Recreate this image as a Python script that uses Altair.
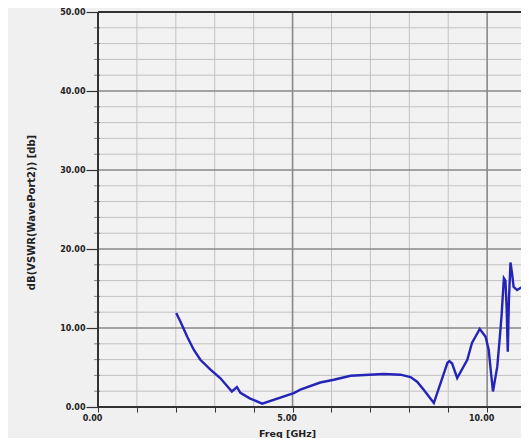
import altair as alt
import pandas as pd

# ---- data ----
freq = [2.01, 2.12, 2.29, 2.46, 2.63, 2.89, 3.14, 3.44, 3.57, 3.66, 3.90, 4.22,
        5.03, 5.20, 5.71, 6.06, 6.49, 7.34, 7.77, 8.03, 8.20, 8.37, 8.63, 8.98,
        9.03, 9.10, 9.23, 9.49, 9.61, 9.81, 9.96, 10.04, 10.10, 10.15, 10.26,
        10.32, 10.37, 10.43, 10.47, 10.50, 10.53, 10.56, 10.60, 10.64, 10.68,
        10.77, 10.90, 11.07]
db = [11.9, 10.8, 8.93, 7.25, 5.98, 4.72, 3.67, 1.97, 2.53, 1.8, 1.1, 0.42,
      1.77, 2.19, 3.1, 3.45, 3.96, 4.17, 4.09, 3.79, 3.2, 2.19, 0.5, 5.6,
      5.8, 5.5, 3.67, 5.98, 8.1, 9.87, 8.9, 7.25, 4.3, 1.97, 5.1,
      8.5, 11.5, 16.3, 16.0, 12.7, 7.0, 13.6, 18.3, 16.9, 15.2,
      14.8, 15.2, 14.0]

x_ticks = [0, 1, 2, 3, 4, 5, 6, 7, 8, 9, 10]
x_major = [5, 10]
x_minor = [1, 2, 3, 4, 6, 7, 8, 9]
y_ticks = [0, 10, 20, 30, 40, 50]
y_major = [10, 20, 30, 40]
y_minor = [2, 4, 6, 8, 12, 14, 16, 18, 22, 24, 26, 28, 32, 34, 36, 38, 42, 44, 46, 48]

X_DOMAIN = [0, 10.87]
Y_DOMAIN = [0, 50]

df = pd.DataFrame({"freq": freq, "db": db, "order": list(range(len(freq)))})

xs = alt.Scale(domain=X_DOMAIN, nice=False, zero=False)
ys = alt.Scale(domain=Y_DOMAIN, nice=False)

FONT = "DejaVu Sans"

x_axis = alt.Axis(
    values=x_ticks,
    labelExpr="datum.value % 5 === 0 ? format(datum.value, '.2f') : ''",
    grid=False, tickSize=5, tickColor="#333333", tickWidth=1,
    domain=False, labelFont=FONT, labelFontSize=8, labelFontWeight="bold",
    labelColor="#222222", labelPadding=2, labelOffset=-6, labelFlush=False,
    title="Freq [GHz]", titleFont=FONT, titleFontSize=9.5, titleFontWeight="bold",
    titleColor="#222222", titleX=189, titleY=26, titleBaseline="middle",
    titleAnchor="start", titleAlign="center",
)
y_axis = alt.Axis(
    values=y_ticks, format=".2f", grid=False, tickSize=12, tickColor="#333333",
    tickWidth=1.2, domain=False, labelFont=FONT, labelFontSize=8,
    labelFontWeight="bold", labelColor="#222222", labelPadding=1, labelFlush=False,
    title="dB(VSWR(WavePort2)) [db]", titleFont=FONT, titleFontSize=10,
    titleFontWeight="bold", titleColor="#222222", titleX=-67, titleY=200,
    titleBaseline="middle", titleAngle=-90, titleAlign="center",
)


def X(field):
    return alt.X(field, scale=xs, axis=x_axis)


def Y(field):
    return alt.Y(field, scale=ys, axis=y_axis)


def vrules(vals, color, width):
    return alt.Chart(pd.DataFrame({"v": vals})).mark_rule(
        color=color, strokeWidth=width).encode(x=X("v:Q"))


def hrules(vals, color, width):
    return alt.Chart(pd.DataFrame({"v": vals})).mark_rule(
        color=color, strokeWidth=width).encode(y=Y("v:Q"))


grid_layers = [
    vrules(x_minor, "#c2c2c2", 1),
    hrules(y_minor, "#c2c2c2", 1),
    vrules(x_major, "#888888", 1.6),
    hrules(y_major, "#888888", 1.6),
]

minor_ticks = alt.Chart(pd.DataFrame({"v": y_minor})).mark_tick(
    orient="horizontal", size=6, thickness=1, color="#555555").encode(
    y=Y("v:Q"), x=alt.value(-1))

line = alt.Chart(df).mark_line(color="#2424b8", strokeWidth=2.4, clip=True).encode(
    x=X("freq:Q"),
    y=Y("db:Q"),
    order="order:Q",
)

frame_left = alt.Chart(pd.DataFrame({"v": [0]})).mark_rule(
    color="#333333", strokeWidth=2).encode(x=X("v:Q"))
frame_top = alt.Chart(pd.DataFrame({"v": [50]})).mark_rule(
    color="#333333", strokeWidth=2).encode(y=Y("v:Q"))
frame_bottom = alt.Chart(pd.DataFrame({"v": [0]})).mark_rule(
    color="#333333", strokeWidth=2).encode(y=Y("v:Q"))

chart = alt.layer(
    *grid_layers, minor_ticks, line, frame_left, frame_top, frame_bottom
).properties(
    width=423, height=395,
    autosize=alt.AutoSizeParams(type="none"),
    padding={"left": 90, "top": 4, "right": 0, "bottom": 31},
    background="#f0f0f0",
).configure_view(stroke=None, fill="#f2f2f2")

chart.save("out.html", embed_options={"renderer": "svg", "actions": False})
